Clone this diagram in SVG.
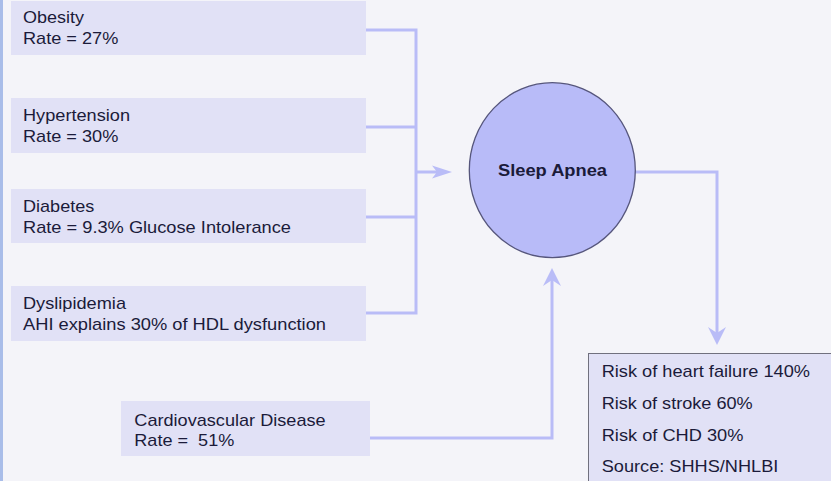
<svg xmlns="http://www.w3.org/2000/svg" width="831" height="481" viewBox="0 0 831 481">
  <style>
    .bg { fill: #f4f4f9; }
    .box { fill: #e1e1f6; }
    .lbl { font-family: "Liberation Sans", Arial, sans-serif; font-size: 17px; fill: #1b1b3a; }
    .title { font-family: "Liberation Sans", Arial, sans-serif; font-size: 16px; font-weight: bold; fill: #1b1b3a; }
    .wire { fill: none; stroke: #b9bcf7; stroke-width: 3; stroke-linejoin: miter; }
    .head { fill: #b9bcf7; }
  </style>

  <rect class="bg" x="0" y="0" width="831" height="481"/>
  <rect x="0" y="0" width="3" height="481" fill="#a9bde9"/>

  <!-- connectors -->
  <g id="connectors">
    <path class="wire" d="M366 30 H416 V313 H366 M366 127 H416 M366 217 H416"/>
    <path class="wire" d="M416 172 H440"/>
    <polygon class="head" points="452,172 432,165.5 437,172 432,178.5"/>
    <path class="wire" d="M635 172 H717 V333"/>
    <polygon class="head" points="717,345 708,327 717,333 726,327"/>
    <path class="wire" d="M370 438 H552 V280"/>
    <polygon class="head" points="552,268 543,286 552,280 561,286"/>
  </g>

  <g id="obesity">
    <rect class="box" x="11" y="1" width="355" height="54"/>
    <text class="lbl" x="23" y="23.3" textLength="61" lengthAdjust="spacingAndGlyphs">Obesity</text>
    <text class="lbl" x="23" y="44.3" textLength="95.3" lengthAdjust="spacingAndGlyphs">Rate = 27%</text>
  </g>

  <g id="hypertension">
    <rect class="box" x="11" y="98" width="355" height="55"/>
    <text class="lbl" x="23" y="121.3" textLength="107" lengthAdjust="spacingAndGlyphs">Hypertension</text>
    <text class="lbl" x="23" y="141.7" textLength="95.3" lengthAdjust="spacingAndGlyphs">Rate = 30%</text>
  </g>

  <g id="diabetes">
    <rect class="box" x="11" y="189" width="355" height="54"/>
    <text class="lbl" x="23" y="211.7" textLength="71.3" lengthAdjust="spacingAndGlyphs">Diabetes</text>
    <text class="lbl" x="23" y="233" textLength="268" lengthAdjust="spacingAndGlyphs">Rate = 9.3% Glucose Intolerance</text>
  </g>

  <g id="dyslipidemia">
    <rect class="box" x="11" y="286" width="355" height="55"/>
    <text class="lbl" x="23" y="308.7" textLength="103" lengthAdjust="spacingAndGlyphs">Dyslipidemia</text>
    <text class="lbl" x="23" y="330" textLength="303" lengthAdjust="spacingAndGlyphs">AHI explains 30% of HDL dysfunction</text>
  </g>

  <g id="cvd">
    <rect class="box" x="121" y="401" width="249" height="55"/>
    <text class="lbl" x="134.3" y="425.7" textLength="191.3" lengthAdjust="spacingAndGlyphs">Cardiovascular Disease</text>
    <text class="lbl" x="134.3" y="446" textLength="100" lengthAdjust="spacingAndGlyphs" xml:space="preserve">Rate =  51%</text>
  </g>

  <g id="sleep-apnea">
    <ellipse cx="552.3" cy="170.2" rx="83" ry="87.5" fill="#b8bbf8" stroke="#56567c" stroke-width="1.3"/>
    <text class="title" x="498" y="176" textLength="109" lengthAdjust="spacingAndGlyphs">Sleep Apnea</text>
  </g>

  <g id="risks">
    <rect x="588.5" y="353.5" width="250" height="135" fill="#e1e1f6" stroke="#70707e" stroke-width="1"/>
    <text class="lbl" x="601.7" y="376.7" textLength="208.3" lengthAdjust="spacingAndGlyphs">Risk of heart failure 140%</text>
    <text class="lbl" x="601.7" y="409" textLength="151" lengthAdjust="spacingAndGlyphs">Risk of stroke 60%</text>
    <text class="lbl" x="601.7" y="441" textLength="141.7" lengthAdjust="spacingAndGlyphs">Risk of CHD 30%</text>
    <text class="lbl" x="601.7" y="472.3" textLength="176.7" lengthAdjust="spacingAndGlyphs">Source: SHHS/NHLBI</text>
  </g>
</svg>
